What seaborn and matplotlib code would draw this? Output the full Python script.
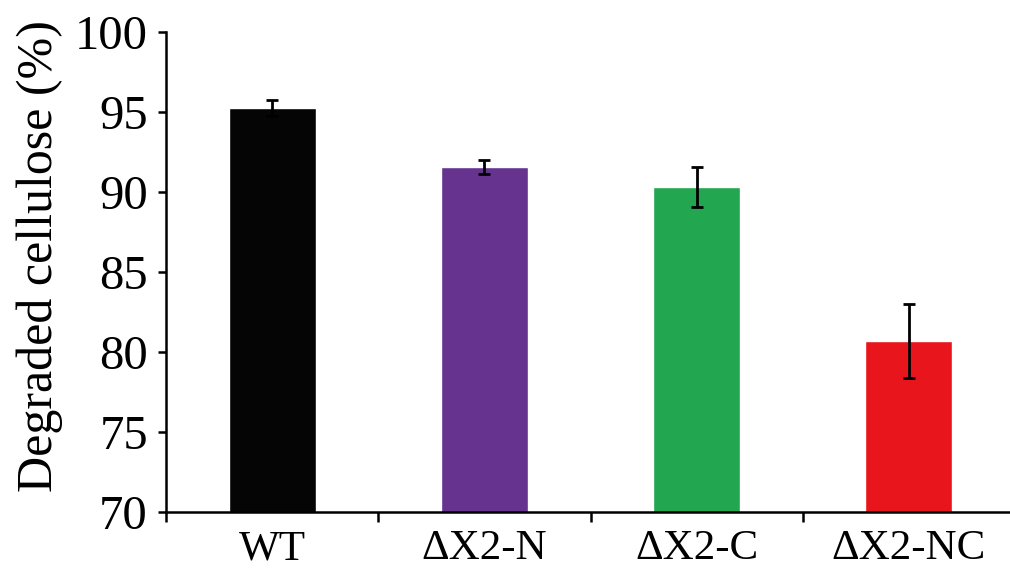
import matplotlib
matplotlib.use("Agg")
import matplotlib.pyplot as plt
import seaborn as sns
import pandas as pd
import numpy as np

categories = ["WT", "ΔX2-N", "ΔX2-C", "ΔX2-NC"]
means = [95.2, 91.55, 90.3, 80.65]
errors = [0.5, 0.42, 1.25, 2.3]
colors = ["#050505", "#66338F", "#22A650", "#E8161C"]
y_ticks = [70, 75, 80, 85, 90, 95, 100]
y_label = "Degraded cellulose (%)"

sns.set_theme(style="white")
plt.rcParams["font.family"] = ["Liberation Serif", "DejaVu Serif"]

df = pd.DataFrame({"group": categories, "value": means})

fig = plt.figure(figsize=(10.1, 5.69), dpi=100)
ax = fig.add_axes([0.1644, 0.1007, 0.8406, 0.8436])

sns.barplot(data=df, x="group", y="value", hue="group", palette=colors,
            order=categories, hue_order=categories, errorbar=None,
            width=0.41, legend=False, ax=ax, saturation=1)
xpos = np.arange(len(categories))
ax.errorbar(xpos, means, yerr=errors, fmt="none", ecolor="black",
            elinewidth=2.0, capsize=4.5, capthick=2.0, zorder=5)

ax.set_ylim(70, 100)
ax.set_xlim(-0.5, len(categories) - 0.5)
ax.set_yticks(y_ticks)
ax.set_yticklabels([str(t) for t in y_ticks], fontsize=35)
ax.set_xticks(xpos)
ax.set_xticklabels(categories, fontsize=31)
ax.set_xticks(np.arange(len(categories)) - 0.5, minor=True)

ax.tick_params(axis="x", which="major", length=0, pad=13)
ax.tick_params(axis="x", which="minor", length=7, width=1.8, direction="out", color="black", bottom=True)
ax.tick_params(axis="y", which="major", length=6, width=1.8, direction="out", color="black", left=True, pad=7)

for s in ["top", "right"]:
    ax.spines[s].set_visible(False)
for s in ["left", "bottom"]:
    ax.spines[s].set_color("black")
    ax.spines[s].set_linewidth(1.8)

ax.set_xlabel("")
ax.set_ylabel(y_label, fontsize=36, color="black")
ax.yaxis.set_label_coords(-0.121, 0.533)
ax.tick_params(colors="black", labelcolor="black")
ax.patch.set_alpha(0)

fig.savefig("out.png", dpi=100, facecolor="white")
